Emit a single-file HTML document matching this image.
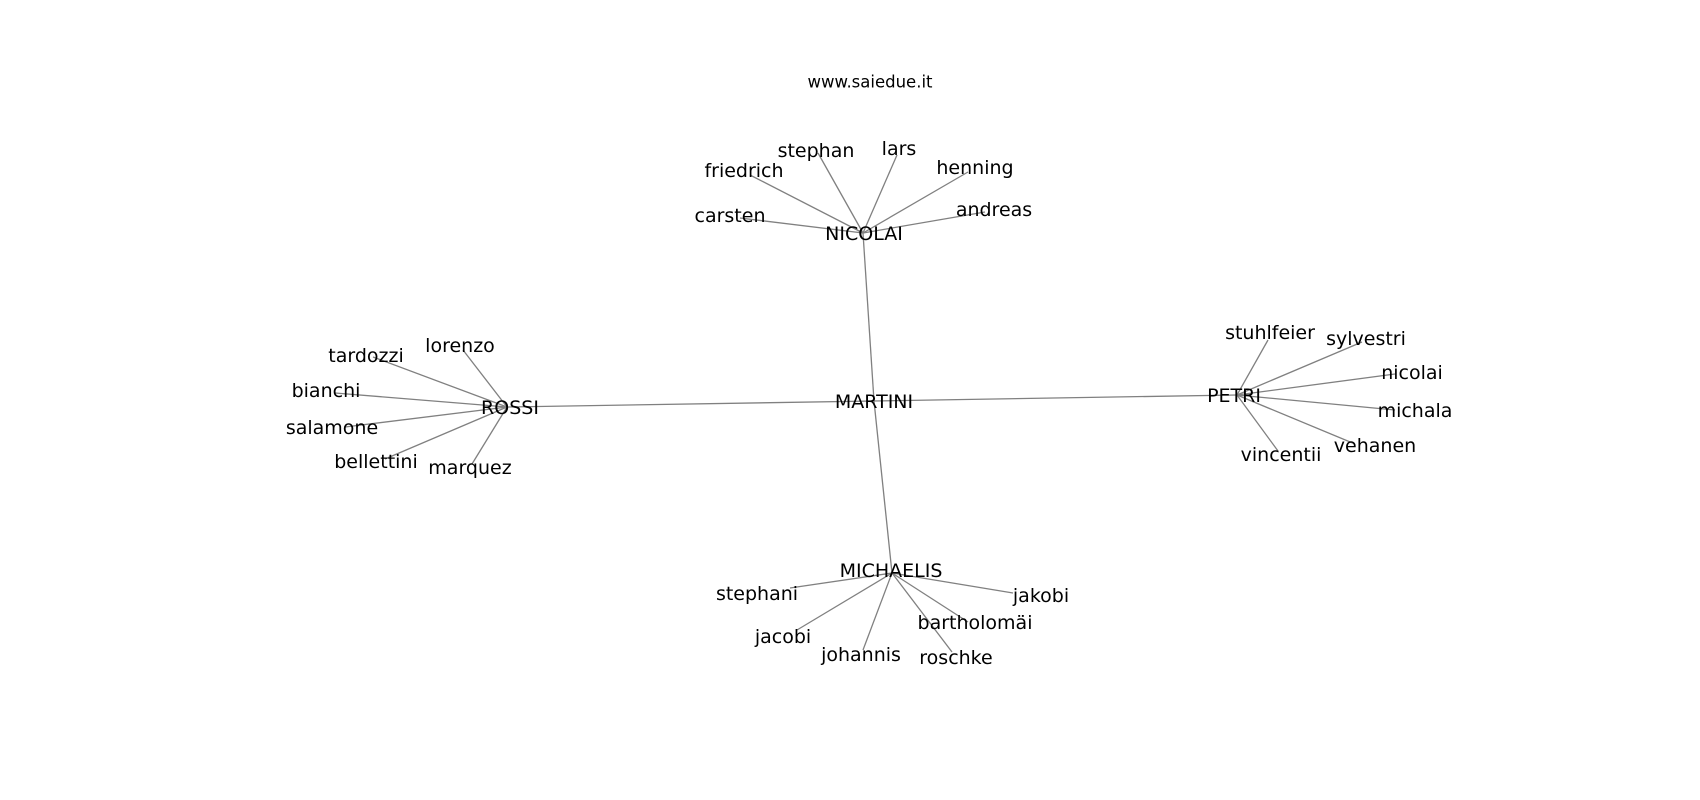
<!DOCTYPE html>
<html><head><meta charset="utf-8"><style>html,body{margin:0;padding:0;background:#fff}svg{display:block}</style></head>
<body>
<svg width="1700" height="800" xmlns="http://www.w3.org/2000/svg">
<g stroke="#808080" stroke-width="1.3" fill="none">
<line x1="874" y1="401" x2="863" y2="233"/>
<line x1="874" y1="401" x2="507" y2="407"/>
<line x1="874" y1="401" x2="1237" y2="395"/>
<line x1="874" y1="401" x2="892" y2="573"/>
<line x1="863" y1="233" x2="740" y2="218"/>
<line x1="863" y1="233" x2="750" y2="175"/>
<line x1="863" y1="233" x2="818" y2="153"/>
<line x1="863" y1="233" x2="897" y2="155"/>
<line x1="863" y1="233" x2="968" y2="172"/>
<line x1="863" y1="233" x2="985" y2="212"/>
<line x1="507" y1="407" x2="373" y2="357"/>
<line x1="507" y1="407" x2="463" y2="350"/>
<line x1="507" y1="407" x2="335" y2="393"/>
<line x1="507" y1="407" x2="345" y2="427"/>
<line x1="507" y1="407" x2="385" y2="459"/>
<line x1="507" y1="407" x2="472" y2="464"/>
<line x1="1237" y1="395" x2="1268" y2="340"/>
<line x1="1237" y1="395" x2="1362" y2="342"/>
<line x1="1237" y1="395" x2="1395" y2="374"/>
<line x1="1237" y1="395" x2="1395" y2="410"/>
<line x1="1237" y1="395" x2="1355" y2="444"/>
<line x1="1237" y1="395" x2="1278" y2="451"/>
<line x1="892" y1="573" x2="790" y2="588"/>
<line x1="892" y1="573" x2="797" y2="630"/>
<line x1="892" y1="573" x2="863" y2="650"/>
<line x1="892" y1="573" x2="952" y2="652"/>
<line x1="892" y1="573" x2="968" y2="622"/>
<line x1="892" y1="573" x2="1013" y2="593"/>
</g>
<g font-family="'DejaVu Sans', 'Liberation Sans', sans-serif" font-size="19" fill="#000" text-anchor="middle" dominant-baseline="central">
<text x="870" y="82" font-size="16.5">www.saiedue.it</text>
<text x="874" y="402">MARTINI</text>
<text x="864" y="234">NICOLAI</text>
<text x="510" y="408">ROSSI</text>
<text x="1234" y="396">PETRI</text>
<text x="891" y="571">MICHAELIS</text>
<text x="730" y="216">carsten</text>
<text x="744" y="171">friedrich</text>
<text x="816" y="151">stephan</text>
<text x="899" y="149">lars</text>
<text x="975" y="168">henning</text>
<text x="994" y="210">andreas</text>
<text x="366" y="356">tardozzi</text>
<text x="460" y="346">lorenzo</text>
<text x="326" y="391">bianchi</text>
<text x="332" y="428">salamone</text>
<text x="376" y="462">bellettini</text>
<text x="470" y="468">marquez</text>
<text x="1270" y="333">stuhlfeier</text>
<text x="1366" y="339">sylvestri</text>
<text x="1412" y="373">nicolai</text>
<text x="1415" y="411">michala</text>
<text x="1375" y="446">vehanen</text>
<text x="1281" y="455">vincentii</text>
<text x="757" y="594">stephani</text>
<text x="783" y="637">jacobi</text>
<text x="861" y="655">johannis</text>
<text x="956" y="658">roschke</text>
<text x="975" y="623">bartholomäi</text>
<text x="1041" y="596">jakobi</text>
</g>
</svg>
</body></html>
